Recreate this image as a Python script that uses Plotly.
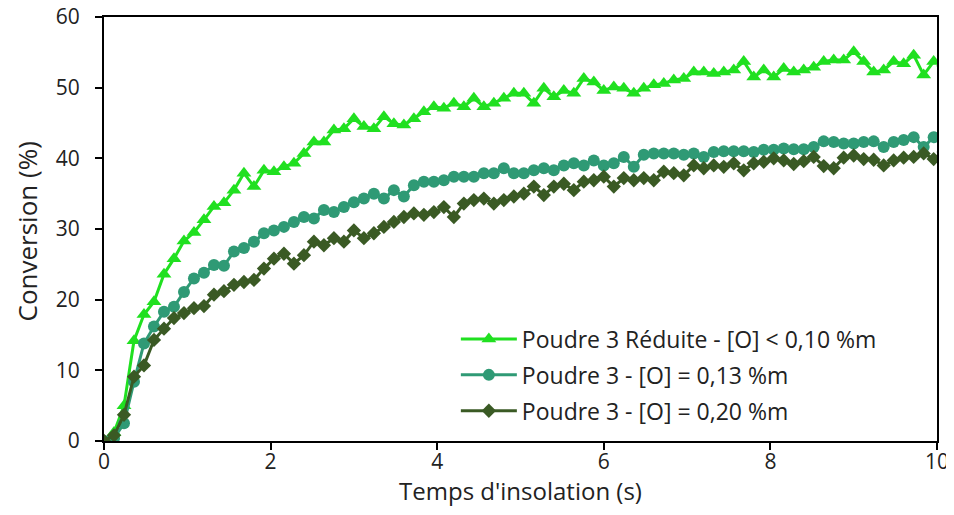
import plotly.graph_objects as go

# temps d'insolation : une mesure toutes les 0,12 s
temps = [round(0.12 * i, 2) for i in range(85)]

poudre3_reduite = [
    0, 1.2, 5.0, 14.2, 17.9, 19.7, 23.6, 25.8, 28.3, 29.5,
    31.3, 33.2, 33.7, 35.5, 37.9, 36.0, 38.3, 38.1, 38.8, 39.3,
    40.7, 42.3, 42.3, 44.0, 44.2, 45.6, 44.5, 44.2, 45.9, 44.9,
    44.7, 45.6, 46.6, 47.3, 47.1, 47.8, 47.3, 48.5, 47.3, 47.8,
    48.5, 49.2, 49.2, 47.8, 49.9, 48.7, 49.6, 49.2, 51.3, 50.8,
    49.6, 50.1, 49.9, 49.2, 49.9, 50.4, 50.6, 51.1, 51.3, 52.2,
    52.2, 52.0, 52.2, 52.5, 53.7, 51.5, 52.5, 51.5, 52.7, 52.2,
    52.5, 52.9, 53.7, 53.9, 53.9, 55.1, 53.7, 52.2, 52.5, 53.7,
    53.4, 54.6, 51.8, 53.7, 53.5,
]

poudre3_013 = [
    0, 0.4, 2.5, 8.4, 13.8, 16.2, 18.3, 19.0, 21.1, 23.0,
    23.8, 24.9, 24.8, 26.8, 27.3, 28.2, 29.4, 29.8, 30.3, 31.0,
    31.7, 31.5, 32.7, 32.4, 33.1, 33.8, 34.3, 35.0, 34.3, 35.5,
    34.6, 36.2, 36.7, 36.7, 36.9, 37.4, 37.4, 37.4, 37.9, 37.9,
    38.6, 37.9, 37.9, 38.3, 38.6, 38.3, 39.0, 39.3, 39.0, 39.7,
    39.0, 39.3, 40.2, 38.8, 40.5, 40.7, 40.7, 40.7, 40.5, 40.7,
    40.2, 40.9, 41.0, 41.0, 41.0, 40.9, 41.2, 41.2, 41.4, 41.3,
    41.3, 41.6, 42.4, 42.3, 42.1, 42.1, 42.3, 42.4, 41.6, 42.3,
    42.6, 43.0, 41.6, 43.0, 42.5,
]

poudre3_020 = [
    0, 0.8, 3.7, 9.1, 10.7, 14.3, 15.9, 17.4, 18.1, 18.8,
    19.1, 20.7, 21.2, 22.1, 22.5, 22.8, 24.4, 25.8, 26.5, 25.1,
    26.3, 28.2, 27.7, 28.7, 28.2, 29.8, 28.7, 29.4, 30.3, 31.0,
    31.7, 32.2, 32.0, 32.4, 33.1, 31.7, 33.6, 34.1, 34.3, 33.6,
    34.1, 34.6, 35.0, 36.0, 34.8, 36.0, 36.4, 35.5, 36.7, 36.9,
    37.4, 36.0, 37.2, 36.9, 37.2, 36.9, 38.1, 37.9, 37.6, 39.0,
    38.6, 39.0, 38.8, 39.3, 38.3, 39.3, 39.5, 40.0, 39.7, 39.2,
    39.6, 40.2, 38.9, 38.6, 40.1, 40.4, 39.9, 39.8, 39.0, 39.7,
    40.1, 40.2, 40.7, 39.9, 40.9,
]

noms = [
    "Poudre 3 Réduite - [O] < 0,10 %m",
    "Poudre 3 - [O] = 0,13 %m",
    "Poudre 3 - [O] = 0,20 %m",
]
series = [poudre3_reduite, poudre3_013, poudre3_020]
couleurs = ["#20E020", "#2F9A75", "#3A5A24"]
symboles = ["triangle-up", "circle", "diamond"]
tailles = [13, 12, 11]

POLICE = "Open Sans"

fig = go.Figure()
for k, (nom, y, c, s, t) in enumerate(zip(noms, series, couleurs, symboles, tailles)):
    fig.add_trace(go.Scatter(
        x=temps, y=y, name=nom, mode="lines+markers",
        legendgroup=f"g{k}",
        line=dict(color=c, width=3),
        marker=dict(symbol=s, size=t, color=c),
    ))

axe = dict(
    showgrid=False, zeroline=False, showline=True, linecolor="black",
    linewidth=2, mirror=True, ticks="outside", ticklen=7, tickwidth=2,
    tickcolor="black", tickfont=dict(size=21, color="#222"),
    automargin=False, ticklabeloverflow="allow",
)

# la page ajoute une marge de 8 px autour de la figure
fig.update_layout(
    width=946, height=499,
    margin=dict(l=96, r=17, t=9, b=66),
    plot_bgcolor="white", paper_bgcolor="white",
    font=dict(family=POLICE, color="#222"),
    xaxis=dict(range=[0, 10], dtick=2, ticklabelstandoff=-6,
               title=dict(text="Temps d'insolation (s)", font=dict(size=24), standoff=14),
               **axe),
    yaxis=dict(range=[0, 60], dtick=10, ticklabelstandoff=11, **axe),
    legend=dict(x=0.4224, y=0.02, xanchor="left", yanchor="bottom",
                bgcolor="rgba(0,0,0,0)", font=dict(size=23),
                itemwidth=56, tracegroupgap=3),
    showlegend=True,
)

# titre de l'axe y placé à la main
fig.add_annotation(
    text="Conversion (%)", textangle=-90, showarrow=False,
    xref="paper", yref="paper", x=-0.093, y=0.493,
    xanchor="center", yanchor="middle",
    font=dict(size=26, color="#222"),
)

fig.write_html("out.html")
